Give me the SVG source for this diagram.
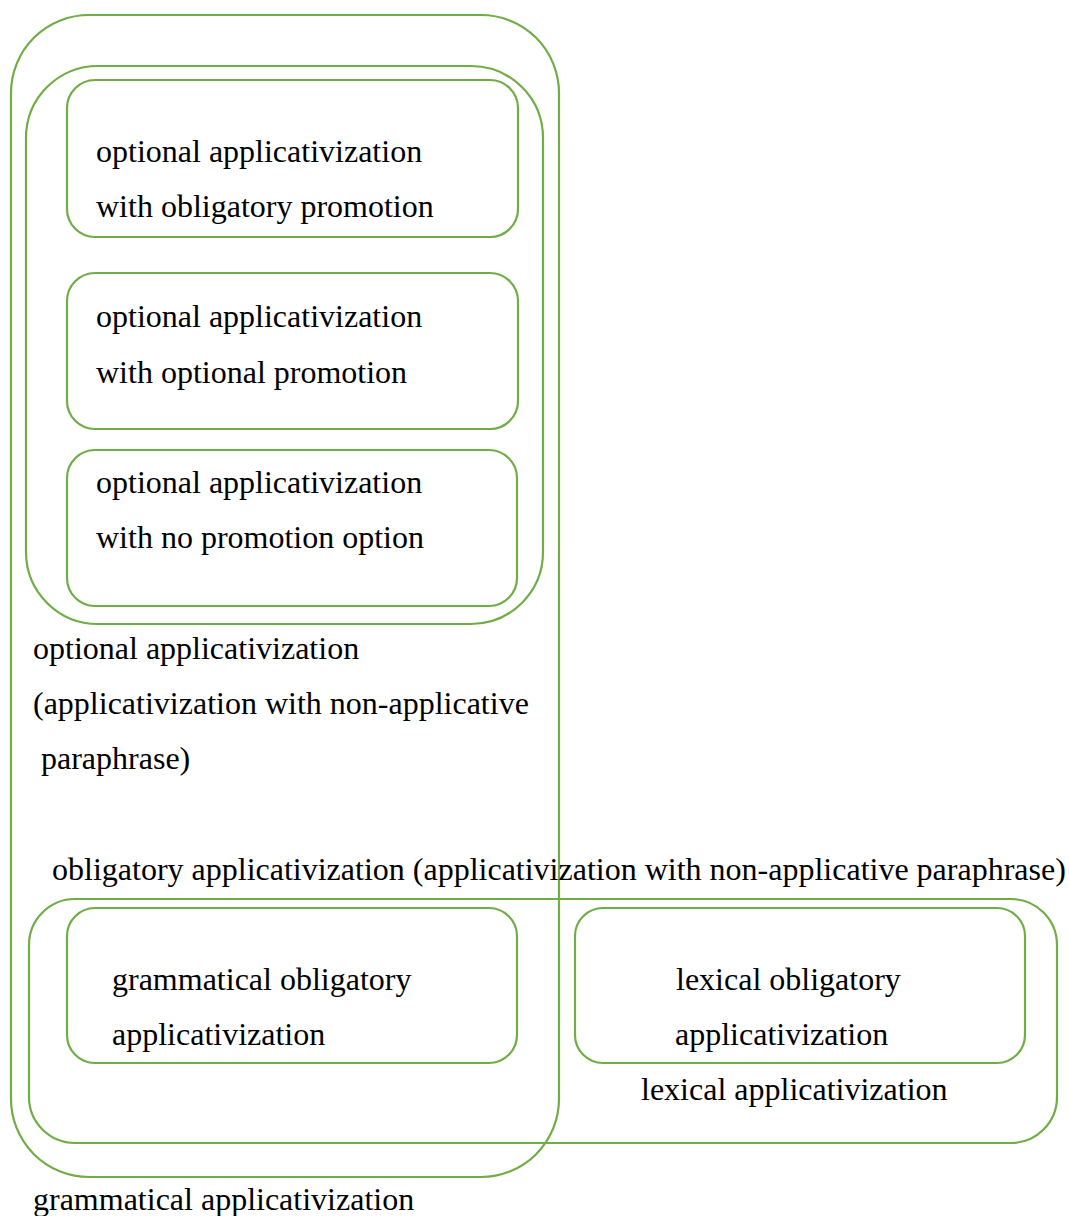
<svg xmlns="http://www.w3.org/2000/svg" width="1069" height="1216" viewBox="0 0 1069 1216">
<style>
.b{fill:none;stroke:#70AD47;stroke-width:2.2}
.t{font-family:"Liberation Serif","Times New Roman",serif;font-size:32px;fill:#000}
</style>
<rect width="1069" height="1216" fill="#fff"/>
<g id="grammatical-applicativization">
<rect class="b" x="11" y="15" width="548" height="1162" rx="78" ry="78"/>
<text class="t" x="33" y="1210">grammatical applicativization</text>
</g>
<g id="optional-applicativization">
<rect class="b" x="26" y="66" width="517" height="558" rx="72" ry="72"/>
<text class="t" x="33" y="659">optional applicativization</text>
<text class="t" x="33" y="714">(applicativization with non-applicative</text>
<text class="t" x="33" y="769" xml:space="preserve"> paraphrase)</text>
</g>
<g id="opt-obligatory-promotion">
<rect class="b" x="67" y="80" width="451" height="157" rx="28" ry="28"/>
<text class="t" x="96" y="162">optional applicativization</text>
<text class="t" x="96" y="217">with obligatory promotion</text>
</g>
<g id="opt-optional-promotion">
<rect class="b" x="67" y="273" width="451" height="156" rx="28" ry="28"/>
<text class="t" x="96" y="327">optional applicativization</text>
<text class="t" x="96" y="383">with optional promotion</text>
</g>
<g id="opt-no-promotion">
<rect class="b" x="67" y="450" width="450" height="156" rx="28" ry="28"/>
<text class="t" x="96" y="493">optional applicativization</text>
<text class="t" x="96" y="548">with no promotion option</text>
</g>
<g id="obligatory-applicativization">
<text class="t" x="52" y="880">obligatory applicativization (applicativization with non-applicative paraphrase)</text>
<rect class="b" x="29" y="899" width="1028" height="244" rx="46" ry="46"/>
</g>
<g id="grammatical-obligatory">
<rect class="b" x="67" y="908" width="450" height="155" rx="28" ry="28"/>
<text class="t" x="112" y="990">grammatical obligatory</text>
<text class="t" x="112" y="1045">applicativization</text>
</g>
<g id="lexical-applicativization">
<rect class="b" x="575" y="908" width="450" height="155" rx="28" ry="28"/>
<text class="t" x="676" y="990">lexical obligatory</text>
<text class="t" x="675" y="1045">applicativization</text>
<text class="t" x="641" y="1100">lexical applicativization</text>
</g>
<g id="connectors"></g>
</svg>
